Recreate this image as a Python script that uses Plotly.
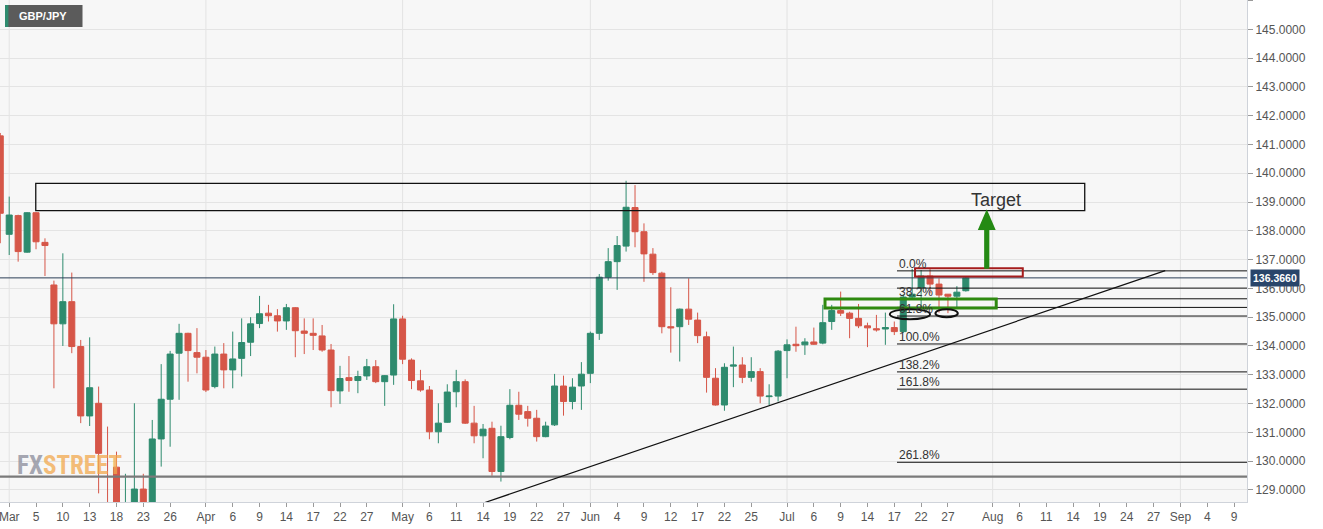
import pandas as pd
import plotly.graph_objects as go

# ---------------- data ----------------
SYMBOL = "GBP/JPY"
START_DATE = "2020-02-28"
END_DATE = "2020-09-30"

opens = [141.30, 137.88, 138.53, 137.26, 138.63, 137.60, 136.12, 134.77, 135.54, 133.98,
         131.57, 132.01, 128.40, 129.79, 125.60, 127.10, 129.03, 127.50, 130.77, 132.15,
         133.75, 134.44, 133.77, 133.61, 132.59, 133.72, 133.17, 133.57, 134.13, 134.78,
         135.14, 135.05, 134.87, 135.33, 134.52, 134.44, 134.35, 133.86, 132.44, 132.90,
         132.80, 132.96, 133.28, 132.76, 132.99, 134.94, 133.51, 132.79, 132.47, 131.02,
         131.35, 132.41, 132.76, 131.32, 130.88, 131.14, 129.64, 130.82, 131.94, 131.72,
         131.49, 130.85, 131.26, 132.61, 132.07, 132.61, 133.05, 134.44, 136.39, 136.93,
         137.47, 138.81, 137.97, 137.19, 136.53, 134.67, 134.67, 135.28, 134.90, 134.32,
         132.88, 131.95, 133.30, 133.34, 132.91, 133.11, 132.24, 132.26, 133.84, 134.06,
         134.04, 134.14, 134.10, 134.85, 135.23, 135.14, 134.96, 134.70, 134.60, 134.59,
         134.64, 134.50, 135.70, 136.02, 136.43, 136.15, 135.80, 135.73, 135.92]
highs = [141.40, 139.19, 138.56, 138.65, 138.65, 137.74, 136.27, 137.22, 136.55, 134.21,
         134.30, 132.59, 131.20, 130.33, 129.56, 132.01, 129.56, 131.43, 133.37, 133.83,
         134.77, 134.46, 134.62, 133.86, 133.98, 134.10, 134.50, 134.96, 135.00, 135.74,
         135.43, 135.28, 135.46, 135.35, 134.96, 134.96, 134.73, 134.07, 133.31, 133.65,
         133.14, 133.55, 133.51, 132.99, 135.45, 135.05, 133.57, 133.17, 132.61, 132.01,
         132.67, 133.17, 132.84, 131.92, 131.29, 131.37, 131.23, 132.50, 132.41, 131.92,
         131.78, 131.37, 133.03, 132.97, 132.88, 133.44, 134.50, 136.50, 137.40, 137.82,
         139.74, 139.59, 138.26, 137.40, 136.58, 136.04, 135.30, 136.35, 135.16, 134.50,
         133.23, 133.40, 133.98, 133.61, 133.61, 133.23, 132.67, 133.86, 134.23, 134.67,
         134.27, 134.64, 135.43, 135.43, 135.89, 135.19, 135.46, 134.81, 135.08, 135.16,
         134.85, 135.80, 136.68, 136.64, 136.67, 136.35, 135.80, 136.08, 136.41]
lows = [137.57, 137.16, 136.93, 137.24, 137.36, 136.43, 132.53, 134.00, 133.75, 131.32,
        131.22, 128.88, 126.20, 124.80, 124.10, 125.60, 126.40, 127.00, 129.81, 130.50,
        132.13, 132.76, 133.05, 132.40, 132.53, 132.53, 132.53, 132.94, 133.65, 134.62,
        134.85, 134.50, 134.56, 133.61, 133.72, 133.86, 133.80, 131.87, 131.99, 132.41,
        132.36, 132.82, 132.71, 131.92, 132.65, 133.37, 132.50, 132.41, 130.76, 130.62,
        131.33, 131.87, 131.29, 130.62, 130.10, 129.49, 129.29, 130.76, 131.43, 131.20,
        130.68, 130.83, 131.22, 131.58, 131.80, 131.78, 132.71, 134.21, 136.27, 135.95,
        137.28, 137.43, 136.23, 136.47, 134.44, 133.77, 133.46, 134.73, 134.10, 132.38,
        131.93, 131.75, 132.57, 132.71, 132.76, 132.01, 131.95, 132.07, 132.88, 133.80,
        133.69, 134.04, 134.06, 134.56, 135.04, 134.27, 134.62, 133.96, 134.50, 134.04,
        134.38, 134.45, 135.62, 135.25, 135.83, 135.16, 135.14, 135.35, 135.89]
closes = [138.61, 138.55, 137.28, 138.63, 137.62, 137.49, 134.77, 135.54, 133.98, 131.57,
          132.55, 130.27, 127.30, 125.90, 127.20, 129.03, 127.40, 130.77, 132.15, 133.72,
          134.44, 133.84, 133.61, 132.47, 133.72, 133.17, 133.55, 134.12, 134.77, 135.12,
          135.05, 134.87, 135.33, 134.53, 134.44, 134.37, 133.86, 132.45, 132.87, 132.80,
          132.94, 133.28, 132.76, 132.97, 134.94, 133.54, 132.80, 132.47, 131.02, 131.32,
          132.40, 132.76, 131.32, 130.88, 131.11, 129.64, 130.85, 131.94, 131.63, 131.49,
          130.85, 131.22, 132.61, 132.07, 132.57, 133.02, 134.44, 136.39, 136.93, 137.49,
          138.82, 137.97, 137.20, 136.55, 134.67, 134.63, 135.28, 134.93, 134.36, 132.91,
          131.95, 133.26, 133.34, 132.91, 133.11, 132.26, 132.26, 133.82, 134.04, 134.01,
          134.14, 134.06, 134.81, 135.23, 135.14, 134.96, 134.70, 134.63, 134.56, 134.64,
          134.50, 135.70, 135.80, 136.43, 136.15, 135.77, 135.73, 135.87, 136.366]

LAST_PRICE = 136.366

tick_dates = ["2020-03-02", "2020-03-05", "2020-03-10", "2020-03-13", "2020-03-18", "2020-03-23",
              "2020-03-26", "2020-04-01", "2020-04-06", "2020-04-09", "2020-04-14", "2020-04-17",
              "2020-04-22", "2020-04-27", "2020-05-01", "2020-05-06", "2020-05-11", "2020-05-14",
              "2020-05-19", "2020-05-22", "2020-05-27", "2020-06-01", "2020-06-04", "2020-06-09",
              "2020-06-12", "2020-06-17", "2020-06-22", "2020-06-25", "2020-07-01", "2020-07-06",
              "2020-07-09", "2020-07-14", "2020-07-17", "2020-07-22", "2020-07-27", "2020-08-03",
              "2020-08-06", "2020-08-11", "2020-08-14", "2020-08-19", "2020-08-24", "2020-08-27",
              "2020-09-01", "2020-09-04", "2020-09-09"]
tick_text = ["Mar", "5", "10", "13", "18", "23", "26", "Apr", "6", "9", "14", "17", "22", "27",
             "May", "6", "11", "14", "19", "22", "27", "Jun", "4", "9", "12", "17", "22", "25",
             "Jul", "6", "9", "14", "17", "22", "27", "Aug", "6", "11", "14", "19", "24", "27",
             "Sep", "4", "9"]
month_dates = ["2020-03-02", "2020-04-01", "2020-05-01", "2020-06-01", "2020-07-01",
               "2020-08-03", "2020-09-01"]

# drawn annotations (price levels / bar positions)
ZONE_LOW, ZONE_HIGH = 138.70, 139.65
ZONE_X0, ZONE_X1 = 3.97, 121.3
FIB_HIGH, FIB_LOW = 136.61, 134.07
FIB_LEVELS = [0.0, 0.236, 0.382, 0.5, 0.618, 1.0, 1.382, 1.618, 2.618]
FIB_LABELED = [0.0, 0.382, 0.618, 1.0, 1.382, 1.618, 2.618]
FIB_X0 = 100.3
TREND_P0 = (54.2, 128.56)
TREND_P1 = (130.3, 136.62)
SUPPORT_LINE = 129.46
GREEN_BOX = (92.25, 111.4, 135.32, 135.63)
RED_BOX = (102.32, 114.37, 136.41, 136.70)
ELLIPSES = [(99.5, 104.0, 134.93, 135.28), (104.6, 107.1, 135.00, 135.28)]
ARROW_X, ARROW_BASE, ARROW_NECK, ARROW_TIP = 110.34, 136.68, 138.03, 138.75
TARGET_X, TARGET_Y = 111.33, 139.06

X_RANGE = [-0.03, 139.45]
Y_RANGE = [128.58, 146.02]

# ---------------- build ----------------
cal = pd.bdate_range(START_DATE, END_DATE)
pos = {d.strftime("%Y-%m-%d"): i for i, d in enumerate(cal)}
xs = list(range(len(opens)))

GREEN = "#2e8b6e"
RED = "#d65648"
FONT = "Arial, Liberation Sans"

fig = go.Figure()
fig.add_trace(go.Candlestick(
    x=xs, open=opens, high=highs, low=lows, close=closes,
    increasing=dict(line=dict(color=GREEN, width=1), fillcolor=GREEN),
    decreasing=dict(line=dict(color=RED, width=1), fillcolor=RED),
    whiskerwidth=0, showlegend=False, hoverinfo="skip",
))

shapes = []
for d in month_dates:
    shapes.append(dict(type="line", xref="x", yref="paper", x0=pos[d], x1=pos[d], y0=0, y1=1,
                       line=dict(color="#e3e3e3", width=1), layer="below"))
shapes.append(dict(type="rect", xref="x", yref="y", x0=ZONE_X0, x1=ZONE_X1, y0=ZONE_LOW, y1=ZONE_HIGH,
                   line=dict(color="#111", width=1.3)))
shapes.append(dict(type="line", xref="paper", yref="y", x0=0, x1=1, y0=SUPPORT_LINE, y1=SUPPORT_LINE,
                   line=dict(color="#7a7a7a", width=2.2)))
shapes.append(dict(type="line", xref="paper", yref="y", x0=0, x1=1, y0=LAST_PRICE, y1=LAST_PRICE,
                   line=dict(color="#2b3d55", width=1)))
fib_vals = [FIB_HIGH - lv * (FIB_HIGH - FIB_LOW) for lv in FIB_LEVELS]
for v in fib_vals:
    shapes.append(dict(type="line", xref="x", yref="y", x0=FIB_X0, x1=X_RANGE[1], y0=v, y1=v,
                       line=dict(color="#111", width=1)))
shapes.append(dict(type="line", xref="x", yref="y", x0=TREND_P0[0], y0=TREND_P0[1],
                   x1=TREND_P1[0], y1=TREND_P1[1], line=dict(color="#111", width=1.2)))
gx0, gx1, gy0, gy1 = GREEN_BOX
shapes.append(dict(type="rect", xref="x", yref="y", x0=gx0, x1=gx1, y0=gy0, y1=gy1,
                   line=dict(color="#2f8a10", width=3)))
rx0, rx1, ry0, ry1 = RED_BOX
shapes.append(dict(type="rect", xref="x", yref="y", x0=rx0, x1=rx1, y0=ry0, y1=ry1,
                   line=dict(color="#a51c1c", width=2)))
for ex0, ex1, ey0, ey1 in ELLIPSES:
    shapes.append(dict(type="circle", xref="x", yref="y", x0=ex0, x1=ex1, y0=ey0, y1=ey1,
                       line=dict(color="#111", width=2)))
sw, hw = 0.29, 1.0
path = (f"M{ARROW_X - sw},{ARROW_BASE} L{ARROW_X - sw},{ARROW_NECK} L{ARROW_X - hw},{ARROW_NECK} "
        f"L{ARROW_X},{ARROW_TIP} L{ARROW_X + hw},{ARROW_NECK} L{ARROW_X + sw},{ARROW_NECK} "
        f"L{ARROW_X + sw},{ARROW_BASE} Z")
shapes.append(dict(type="path", xref="x", yref="y", path=path, fillcolor="#248a14",
                   line=dict(color="#248a14", width=0)))

PW, PH = 1247.0, 502.0
shapes.append(dict(type="rect", xref="paper", yref="paper", x0=5 / PW, x1=82.5 / PW,
                   y0=1 - 27 / PH, y1=1 - 5 / PH, fillcolor="#5b5b5b", line=dict(width=0)))
shapes.append(dict(type="rect", xref="paper", yref="paper", x0=5 / PW, x1=8.4 / PW,
                   y0=1 - 27 / PH, y1=1 - 5 / PH, fillcolor=GREEN, line=dict(width=0)))

annotations = []
for lv in FIB_LABELED:
    v = FIB_HIGH - lv * (FIB_HIGH - FIB_LOW)
    annotations.append(dict(x=FIB_X0, y=v, xref="x", yref="y", text=f"{lv * 100:.1f}%",
                            showarrow=False, xanchor="left", yanchor="bottom", yshift=-2,
                            font=dict(size=12, color="#333", family=FONT)))
annotations.append(dict(x=TARGET_X, y=TARGET_Y, xref="x", yref="y", text="Target", showarrow=False,
                        font=dict(size=18, color="#333", family=FONT)))
annotations.append(dict(x=17 / PW, y=1 - 16 / PH, xref="paper", yref="paper", text=f"<b>{SYMBOL}</b>",
                        showarrow=False, xanchor="left", yanchor="middle",
                        font=dict(size=11, color="white", family=FONT)))
annotations.append(dict(x=1, y=LAST_PRICE, xref="paper", yref="y", text=f"<b>{LAST_PRICE:.4f}</b>",
                        showarrow=False, xanchor="left", yanchor="middle", xshift=3,
                        bgcolor="#29456a", borderpad=2,
                        font=dict(size=10.5, color="white", family=FONT)))
annotations.append(dict(x=15 / PW, y=1 - 465 / PH, xref="paper", yref="paper",
                        text="<b><span style='color:#8a8c9a'>FX</span><span style='color:#f2a94e'>STREET</span></b>",
                        showarrow=False, xanchor="left", yanchor="middle", opacity=0.75,
                        font=dict(size=25, family="Liberation Sans Narrow, Arial Narrow, Roboto Condensed, Arial")))

fig.update_layout(
    width=1323, height=529, autosize=False,
    margin=dict(l=0, r=76, t=0, b=27, pad=0),
    paper_bgcolor="white", plot_bgcolor="#f7f7f7",
    shapes=shapes, annotations=annotations,
    boxgap=0.18, boxgroupgap=0.18,
    xaxis=dict(range=X_RANGE, tickmode="array", tickvals=[pos[d] for d in tick_dates], ticktext=tick_text,
               ticks="outside", ticklen=4, tickcolor="#9a9a9a", showgrid=False, zeroline=False,
               rangeslider=dict(visible=False), showline=True, linecolor="#cfd3da",
               ticklabeloverflow="allow",
               tickfont=dict(size=12, color="#555", family=FONT)),
    yaxis=dict(range=Y_RANGE, side="right", dtick=1, tick0=0, tickformat=".4f",
               ticks="outside", ticklen=5, tickcolor="#9a9a9a", gridcolor="#e4e4e4", zeroline=False,
               showline=True, linecolor="#cfd3da",
               tickfont=dict(size=12, color="#555", family=FONT)),
    hovermode=False,
)

fig.write_html("out.html", config={"displayModeBar": False},
               post_script="document.body.style.margin='0';document.body.style.overflow='hidden';")
